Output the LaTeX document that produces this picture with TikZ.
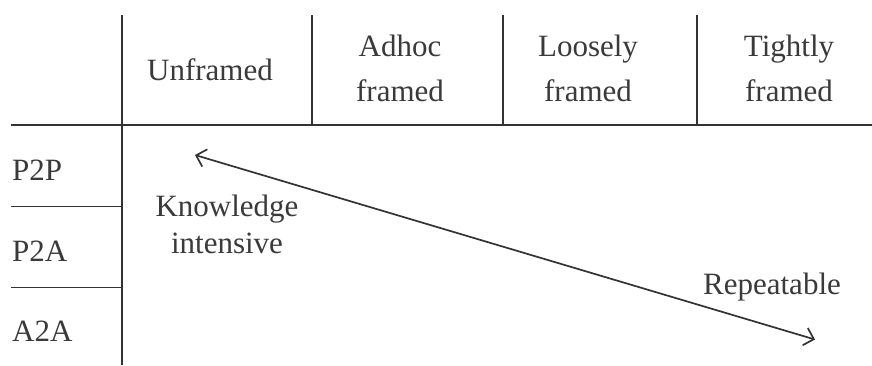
\documentclass[tikz,border=0pt]{standalone}
\usepackage{fontspec}
\setmainfont{Liberation Serif}
\usetikzlibrary{arrows.meta}
\definecolor{ink}{HTML}{333333}
\definecolor{txt}{HTML}{3A3A3A}
\begin{document}
\begin{tikzpicture}[x=1pt,y=-1pt,
  rule/.style={draw=ink,line width=1.7pt},
  head/.style={anchor=base,align=center,text=txt,inner sep=0pt,
    font=\fontsize{31}{45}\selectfont},
  rowlab/.style={anchor=base west,text=txt,inner sep=0pt,
    font=\fontsize{31}{36}\selectfont},
  note/.style={anchor=base,align=center,text=txt,inner sep=0pt,
    font=\fontsize{31}{36.5}\selectfont},
  axis/.style={draw=ink,line width=1.7pt,{Straight Barb[length=9pt,width=18pt]}-{Straight Barb[length=9pt,width=18pt]}}]
\useasboundingbox (0,0) rectangle (872,365);
% table rules
\draw[rule] (11,125) -- (872,125);
\draw[rule] (122,15) -- (122,365);
\draw[rule] (312,15) -- (312,125);
\draw[rule] (503,15) -- (503,125);
\draw[rule] (697,15) -- (697,125);
\draw[rule] (11,206.5) -- (122,206.5);
\draw[rule] (11,287.5) -- (122,287.5);
% column headers (base = baseline of the last line)
\node[head] (unf) at (210,80) {Unframed};
\node[head] (adh) at (400,101) {Adhoc\\framed};
\node[head] (loo) at (588,101) {Loosely\\framed};
\node[head] (tig) at (789,101) {Tightly\\framed};
% row labels
\node[rowlab] (p2p) at (12,180) {P2P};
\node[rowlab] (p2a) at (12,261.5) {P2A};
\node[rowlab] (a2a) at (12,341.5) {A2A};
% spectrum arrow
\coordinate (kiend) at (195,155);
\coordinate (rpend) at (815,339.5);
\draw[axis] (kiend) -- (rpend);
\node[note] (know) at (227,253) {Knowledge\\intensive};
\node[note] (rep) at (772,294) {Repeatable};
\end{tikzpicture}
\end{document}
